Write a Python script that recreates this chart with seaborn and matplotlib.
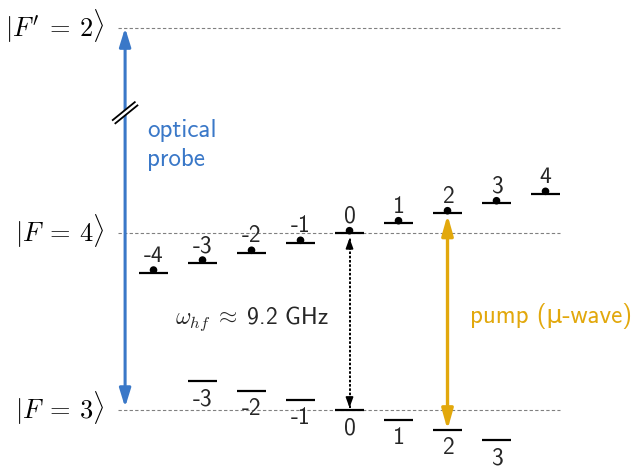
import numpy as np
import pandas as pd
import matplotlib.pyplot as plt
import matplotlib.transforms as mtransforms
import seaborn as sns

# hyperfine levels, energy in arb. units (F=3 centre = 0, F=4 centre = 9.2)
m_f4 = [-4, -3, -2, -1, 0, 1, 2, 3, 4]
e_f4 = [7.15, 7.67, 8.18, 8.70, 9.20, 9.72, 10.24, 10.76, 11.25]
m_f3 = [-3, -2, -1, 0, 1, 2, 3]
e_f3 = [1.51, 1.01, 0.51, 0.0, -0.52, -1.04, -1.56]

ket_labels = [r"$|F'\:=\:2\rangle$", r"$|F\:=\:4\rangle$", r"$|F\:=\:3\rangle$"]
ket_energies = [19.9, 9.2, 0.0]

probe_m = -4.58
pump_m = 2
hf_label = r"$\omega_{hf}\;\approx\;$9.2 GHz"
probe_label = "optical\nprobe"
pump_label = "pump (\u03bc-wave)"

blue = '#3a78c8'
gold = '#e2a80c'

sns.set_theme(style='white')
plt.rcParams['font.family'] = ['cmss10', 'DejaVu Sans']
plt.rcParams['mathtext.fontset'] = 'cm'
plt.rcParams['axes.unicode_minus'] = False

fig = plt.figure(figsize=(6.39, 4.68), dpi=100)
ax = fig.add_axes([0, 0, 1, 1])

# dashed reference lines
ax.hlines(ket_energies, -4.73, 4.3, colors='#808080', lw=0.8, linestyles=(0, (3, 2)), zorder=1)
for lab, e in zip(ket_labels, ket_energies):
    ax.text(-5.0, e + 0.1, lab, ha='right', va='center', fontsize=19, color='black')

# zeeman sublevels
half = 0.3
ax.hlines(e_f4, np.array(m_f4) - half, np.array(m_f4) + half, colors='black', lw=1.6, zorder=2)
ax.hlines(e_f3, np.array(m_f3) - half, np.array(m_f3) + half, colors='black', lw=1.6, zorder=2)

# population dots on F=4
df4 = pd.DataFrame({'m': m_f4, 'E': e_f4})
dot_trans = ax.transData + mtransforms.ScaledTranslation(0, 1.9 / 72, fig.dpi_scale_trans)
sns.scatterplot(data=df4, x='m', y='E', color='black', s=30, edgecolor='none',
                ax=ax, legend=False, transform=dot_trans, zorder=3)

for m, e in zip(m_f4, e_f4):
    ax.annotate(str(m), (m, e), xytext=(0, 12), textcoords='offset points',
                ha='center', va='center', fontsize=17)
for m, e in zip(m_f3, e_f3):
    ax.annotate(str(m), (m, e), xytext=(0, -13), textcoords='offset points',
                ha='center', va='center', fontsize=17)

# optical probe arrow
ax.annotate('', xy=(probe_m, ket_energies[0]), xytext=(probe_m, ket_energies[2]),
            arrowprops=dict(arrowstyle='<|-|>,head_length=0.55,head_width=0.17',
                            color=blue, lw=2.2, shrinkA=2, shrinkB=0, mutation_scale=20),
            zorder=2)
ax.text(-4.13, 13.8, probe_label, color=blue, fontsize=18, ha='left', va='center',
        linespacing=1.38)

# axis break on the probe arrow
ax.set_xlim(-7.133, 5.908)
ax.set_ylim(-3.02, 21.35)
cx, cy = ax.transData.transform((probe_m, 15.48))
d = np.array([23.4, 19.0]) / 2
p = np.array([-19.0, 23.4]) / np.hypot(23.4, 19.0) * 2.1
ident = mtransforms.IdentityTransform()
ax.plot([cx - d[0], cx + d[0]], [cy - d[1], cy + d[1]], color='white', lw=3.5,
        transform=ident, zorder=4, solid_capstyle='butt')
for s in (1, -1):
    ax.plot([cx - d[0] + s * p[0], cx + d[0] + s * p[0]],
            [cy - d[1] + s * p[1], cy + d[1] + s * p[1]],
            color='black', lw=1.3, transform=ident, zorder=5, solid_capstyle='butt')

# hyperfine splitting (dotted)
ax.plot([0, 0], [0.12, 9.2 - 0.25], color='black', lw=1.4, ls=(0, (1.3, 0.9)), zorder=2)
for tip, tail in ((9.2 - 0.25, 9.2 - 0.75), (0.12, 0.6)):
    ax.annotate('', xy=(0, tip), xytext=(0, tail),
                arrowprops=dict(arrowstyle='-|>,head_length=0.6,head_width=0.22',
                                color='black', lw=1.2, shrinkA=0, shrinkB=0,
                                mutation_scale=10))
ax.text(-3.56, 4.75, hf_label, fontsize=17, ha='left', va='center')

# microwave pump arrow
ax.annotate('', xy=(pump_m, e_f4[m_f4.index(pump_m)] - 0.08),
            xytext=(pump_m, e_f3[m_f3.index(pump_m)] + 0.02),
            arrowprops=dict(arrowstyle='<|-|>,head_length=0.6,head_width=0.17',
                            color=gold, lw=2.4, shrinkA=0, shrinkB=0, mutation_scale=20),
            zorder=2)
ax.text(2.46, 4.9, pump_label, color=gold, fontsize=18, ha='left', va='center')

ax.set_xlim(-7.133, 5.908)
ax.set_ylim(-3.02, 21.35)
ax.set_axis_off()
fig.savefig('out.png', dpi=100)
